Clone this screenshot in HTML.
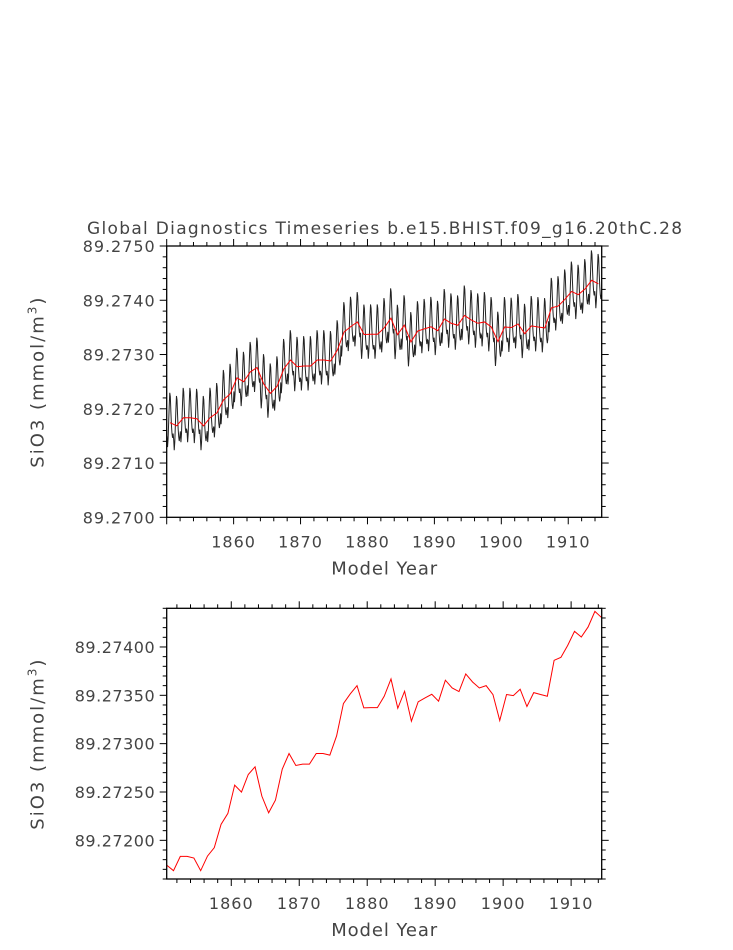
<!DOCTYPE html>
<html><head><meta charset="utf-8"><style>
body{margin:0;background:#fff;}
svg text{font-family:"DejaVu Sans","Liberation Sans",sans-serif;fill:#444;}
</style></head><body>
<svg id="chart" width="733" height="945" xmlns="http://www.w3.org/2000/svg">
<text x="385" y="234" font-size="17" text-anchor="middle" letter-spacing="0.9" textLength="596" lengthAdjust="spacing">Global Diagnostics Timeseries b.e15.BHIST.f09_g16.20thC.28</text>
<g id="top"></g>
<g id="bot"></g>
</svg>
<script>
const years = [];
for (let y = 1850; y <= 1914; y++) years.push(y);
const annualMean = [89.271744,89.271686,89.271834,89.271834,89.271817,89.271686,89.271837,89.271924,89.272165,89.272278,
89.272571,89.272499,89.272681,89.272760,89.272457,89.272285,89.272416,89.272736,89.272898,89.272774,
89.272788,89.272788,89.272898,89.272898,89.272881,89.273081,89.273415,89.273514,89.273600,89.273370,
89.273373,89.273373,89.273490,89.273669,89.273366,89.273542,89.273232,89.273432,89.273473,89.273511,
89.273439,89.273656,89.273576,89.273539,89.273721,89.273638,89.273576,89.273600,89.273508,89.273239,
89.273508,89.273497,89.273563,89.273384,89.273528,89.273508,89.273490,89.273862,89.273893,89.274017,
89.274162,89.274103,89.274207,89.274368,89.274303];
// seasonal anomaly (monthly climatology), units of mmol/m3
const seasonalAnom = [-0.00025,-0.00045,-0.00030,0.00000,0.00030,0.00055,0.00048,0.00020,-0.00005,-0.00020,-0.00028,-0.00020];
const topYTicks = [89.2700,89.2710,89.2720,89.2730,89.2740,89.2750];
const topYLabels = ["89.2700","89.2710","89.2720","89.2730","89.2740","89.2750"];
const botYTicks = [89.272,89.2725,89.273,89.2735,89.274];
const botYLabels = ["89.27200","89.27250","89.27300","89.27350","89.27400"];
const xTicks = [1860,1870,1880,1890,1900,1910];

const NS="http://www.w3.org/2000/svg";
function el(parent,tag,attrs,text){const e=document.createElementNS(NS,tag);for(const k in attrs)e.setAttribute(k,attrs[k]);if(text!==undefined)e.textContent=text;parent.appendChild(e);return e;}

function panel(g,P){
  const xs=v=>P.x0+(v-P.xmin)/(P.xmax-P.xmin)*(P.x1-P.x0);
  const ys=v=>P.y1-(v-P.ymin)/(P.ymax-P.ymin)*(P.y1-P.y0);
  for(let v=Math.ceil(P.xmin/2)*2; v<=P.xmax+1e-9; v+=2){
    const major=v%10===0, L=major?7:4, x=xs(v);
    const t1=el(g,'line',{x1:x,x2:x,y1:P.y0,y2:P.y0-L,stroke:'#000','stroke-width':1});
    
    const t2=el(g,'line',{x1:x,x2:x,y1:P.y1,y2:P.y1+L,stroke:'#000','stroke-width':1});
    
  }
  const nMin=Math.round((P.ymax-P.ymin)/P.minor);
  for(let i=0;i<=nMin+1;i++){
    const v=P.ymin0+i*P.minor; if(v>P.ymax+1e-9||v<P.ymin-1e-9) continue;
    const isMaj=P.yticks.some(t=>Math.abs(t-v)<P.minor/10), L=isMaj?7:4, y=ys(v);
    const a=el(g,'line',{x1:P.x0,x2:P.x0-L,y1:y,y2:y,stroke:'#000','stroke-width':1});
    
    const b=el(g,'line',{x1:P.x1,x2:P.x1+L,y1:y,y2:y,stroke:'#000','stroke-width':1});
    
  }
  P.yticks.forEach((v,i)=>{
    const t=el(g,'text',{x:P.x0-12,y:ys(v)+6,'font-size':16,'text-anchor':'end',textLength:P.lblW,lengthAdjust:'spacing'},P.ylabels[i]);
    
  });
  xTicks.forEach(v=>{
    const t=el(g,'text',{x:xs(v),y:P.y1+30,'font-size':16,'text-anchor':'middle','letter-spacing':'1'},String(v));
    
  });
  const xt=el(g,'text',{x:(P.x0+P.x1)/2,y:P.y1+57,'font-size':18,'text-anchor':'middle',textLength:106,lengthAdjust:'spacing'},'Model Year');
  
  const cy=(P.y0+P.y1)/2;
  const yt=el(g,'text',{x:0,y:0,'font-size':18,'text-anchor':'middle','letter-spacing':'2',transform:`translate(${P.x0-123},${cy}) rotate(-90)`});
  
  yt.appendChild(document.createTextNode('SiO3 (mmol/m'));
  const sup=el(yt,'tspan',{dy:-7,'font-size':12},'3');
  el(yt,'tspan',{dy:7},')');
  return {xs,ys};
}

const gt=document.getElementById('top');
const PT={x0:166.7,x1:601.7,y0:246,y1:517.3,xmin:1850,xmax:1915,ymin:89.2700,ymax:89.2750,ymin0:89.2700,minor:0.0002,yticks:topYTicks,ylabels:topYLabels,lblW:72};
const ST=panel(gt,PT);
let d='';
years.forEach((yr,i)=>{seasonalAnom.forEach((a,m)=>{const v=annualMean[i]+a;d+=(d?'L':'M')+ST.xs(yr+(m+0.5)/12).toFixed(2)+','+ST.ys(v).toFixed(2);});});
const ml=el(gt,'path',{d:d,fill:'none',stroke:'#222','stroke-width':1});

let d2='';
years.forEach((yr,i)=>{d2+=(d2?'L':'M')+ST.xs(yr+0.5).toFixed(2)+','+ST.ys(annualMean[i]).toFixed(2);});
const rl=el(gt,'path',{d:d2,fill:'none',stroke:'#f00','stroke-width':1});

const fr=el(gt,'rect',{x:PT.x0,y:PT.y0,width:PT.x1-PT.x0,height:PT.y1-PT.y0,fill:'none',stroke:'#000','stroke-width':1.3});


const gb=document.getElementById('bot');
const PB={x0:166.7,x1:601.7,y0:608.3,y1:879,xmin:1850.5,xmax:1914.5,ymin:89.27160,ymax:89.27440,ymin0:89.2716,minor:0.0001,yticks:botYTicks,ylabels:botYLabels,lblW:80};
const SB=panel(gb,PB);
let d3='';
years.forEach((yr,i)=>{d3+=(d3?'L':'M')+SB.xs(yr+0.5).toFixed(2)+','+SB.ys(annualMean[i]).toFixed(2);});
const rb=el(gb,'path',{d:d3,fill:'none',stroke:'#f00','stroke-width':1});

const fb=el(gb,'rect',{x:PB.x0,y:PB.y0,width:PB.x1-PB.x0,height:PB.y1-PB.y0,fill:'none',stroke:'#000','stroke-width':1.3});

</script>
</body></html>
